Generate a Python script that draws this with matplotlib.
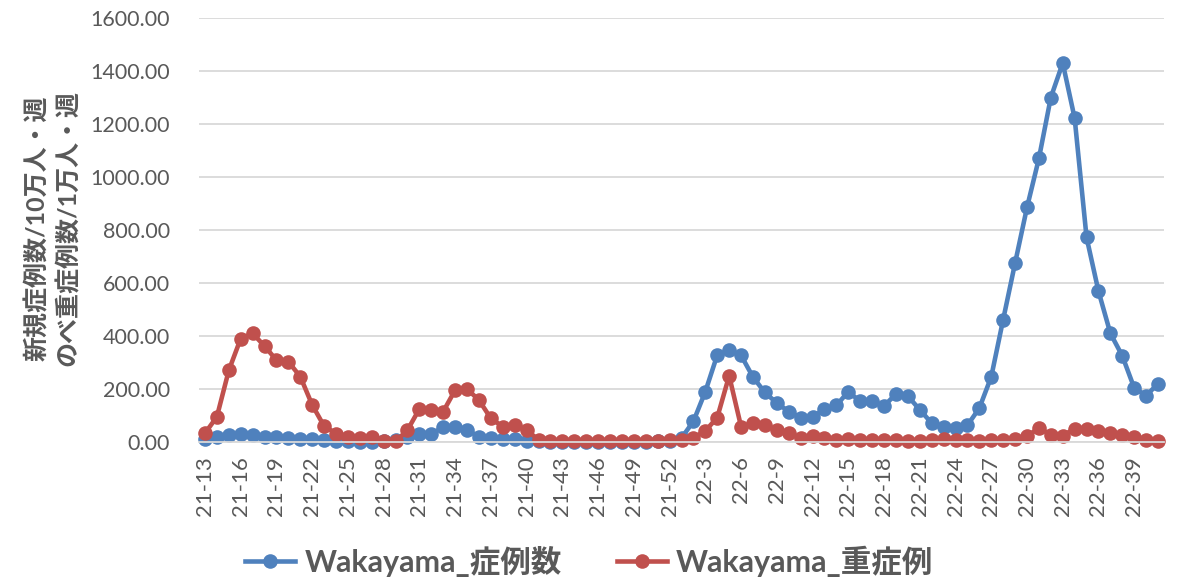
import matplotlib
matplotlib.use("Agg")
import matplotlib.pyplot as plt
from matplotlib.ticker import FormatStrFormatter, FixedLocator

# Weekly labels: 2021 week 13 .. 2022 week 41
weeks_2021 = [f"21-{w}" for w in range(13, 53)]
weeks_2022 = [f"22-{w}" for w in range(1, 42)]
weeks = weeks_2021 + weeks_2022

# New cases per 100k population per week
cases = [
    12, 20, 26, 30, 25, 20, 20, 16, 12, 10,
    8, 5, 2, 1, 1, 2, 8, 20, 30, 30,
    56, 58, 45, 20, 15, 12, 12, 3, 2, 1,
    1, 1, 1, 1, 1, 1, 1, 1, 2, 4,
    15, 78, 190, 328, 347, 327, 245, 187, 147, 115,
    91, 95, 123, 138, 190, 153, 153, 136, 181, 173,
    122, 71, 58, 54, 63, 128, 246, 462, 675, 885,
    1070, 1300, 1430, 1222, 772, 569, 410, 325, 204, 175,
    220,
]

# Cumulative severe cases per 10k population per week
severe = [
    33, 95, 270, 390, 410, 362, 309, 303, 247, 140,
    60, 32, 20, 15, 18, 2, 2, 45, 125, 120,
    115, 196, 200, 158, 89, 58, 64, 45, 8, 5,
    5, 5, 5, 5, 5, 5, 5, 5, 5, 6,
    8, 16, 42, 92, 250, 58, 70, 64, 45, 35,
    14, 24, 14, 8, 10, 8, 8, 6, 6, 5,
    5, 8, 12, 8, 6, 5, 6, 9, 10, 22,
    52, 28, 24, 50, 50, 40, 35, 25, 20, 6,
    3,
]

series_names = ["Wakayama_症例数", "Wakayama_重症例"]
series_colors = ["#4F81BD", "#C0504D"]
y_ticks = [0, 200, 400, 600, 800, 1000, 1200, 1400, 1600]
y_label_lines = ["新規症例数/10万人・週", "のべ重症例数/1万人・週"]

fonts = ["Lato", "Noto Sans CJK JP", "DejaVu Sans"]
plt.rcParams["font.family"] = fonts

fig = plt.figure(figsize=(11.89, 5.81), dpi=100)
ax = fig.add_axes([199 / 1189, 1 - 442 / 581, (1164 - 199) / 1189, (442 - 18) / 581])

x = list(range(len(weeks)))
for vals, name, col in zip([cases, severe], series_names, series_colors):
    ax.plot(x, vals, color=col, lw=3.3, marker="o", markersize=10.5,
            markeredgewidth=0, label=name, solid_joinstyle="round", clip_on=False)

ax.set_xlim(-0.5, len(weeks) - 0.5)
ax.set_ylim(0, 1600)
ax.yaxis.set_major_locator(FixedLocator(y_ticks))
ax.yaxis.set_major_formatter(FormatStrFormatter("%.2f"))
ax.grid(axis="y", color="#D9D9D9", lw=1.3)
ax.set_axisbelow(True)
for s in ["top", "right", "left"]:
    ax.spines[s].set_visible(False)
ax.spines["bottom"].set_color("#D9D9D9")
ax.spines["bottom"].set_linewidth(1.3)

tick_pos = x[::3]
ax.set_xticks(tick_pos)
ax.set_xticklabels([weeks[i] for i in tick_pos], rotation=90, fontsize=16,
                   color="#595959")
ax.tick_params(axis="x", length=0, pad=10)
ax.tick_params(axis="y", length=0, pad=21, labelsize=15.5, labelcolor="#595959")

# Two-line rotated axis title
fig.text(37 / 1189, 1 - 228 / 581, y_label_lines[0], rotation=90, ha="center",
         va="center", fontsize=18, fontweight="bold", color="#595959")
fig.text(68 / 1189, 1 - 228 / 581, y_label_lines[1], rotation=90, ha="center",
         va="center", fontsize=18, fontweight="bold", color="#595959")

leg = fig.legend(loc="center", bbox_to_anchor=(589 / 1189, 1 - 561 / 581), ncol=2,
                 frameon=False, prop={"family": fonts, "size": 22, "weight": "bold"},
                 handlelength=1.65, columnspacing=1.8, handletextpad=0.3)
for t in leg.get_texts():
    t.set_color("#595959")

fig.savefig("out.png", dpi=100)
